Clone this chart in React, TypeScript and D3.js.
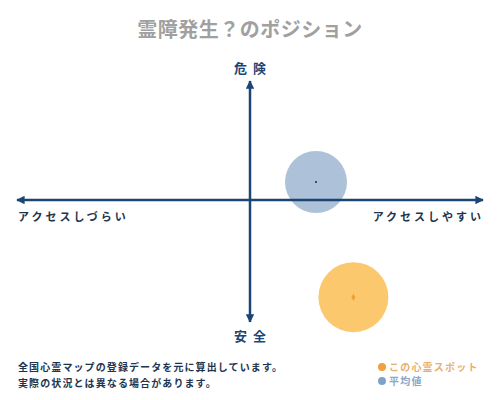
import React from "react";
import * as d3 from "d3";

const title = "霊障発生？のポジション";
const axisTop = "危険";
const axisBottom = "安全";
const axisLeft = "アクセスしづらい";
const axisRight = "アクセスしやすい";
const noteLines = ["全国心霊マップの登録データを元に算出しています。", "実際の状況とは異なる場合があります。"];
const seriesNames = ["この心霊スポット", "平均値"];
const seriesX = [47, 30];
const seriesY = [-81, 15];
const seriesR = [35, 31];
const seriesFill = ["#fcc86e", "#adc1d9"];
const seriesDot = ["#f0a030", "#1a2a3a"];
const legendColor = ["#f0a040", "#7fa3c8"];
const legendText = ["#e8b070", "#8aa8c8"];

const W = 500;
const H = 400;
const navy = "#1b4674";
const font = "'Noto Sans CJK JP', sans-serif";

export default function App() {
  const x = d3.scaleLinear().domain([-100, 100]).range([30, 470]);
  const y = d3.scaleLinear().domain([-100, 100]).range([320, 80]);
  const cx = x(0);
  const cy = y(0);
  return (
    <div style={{ position: "fixed", left: 0, top: 0, width: W, height: H, background: "#fff" }}>
      <svg width={W} height={H} style={{ display: "block" }}>
        <defs>
          <marker id="arr" viewBox="0 0 10 10" refX="9" refY="5" markerWidth="3.4" markerHeight="3.4" orient="auto">
            <path d="M0,0 L10,5 L0,10 z" fill={navy} />
          </marker>
        </defs>
        <text x={W / 2} y={37} textAnchor="middle" fontFamily={font} fontSize={20} fontWeight={700} fill="#a0a0a0" letterSpacing={0.5}>
          {title}
        </text>
        {seriesNames.map((n, i) => (
          <circle key={n} cx={x(seriesX[i])} cy={y(seriesY[i])} r={seriesR[i]} fill={seriesFill[i]} />
        ))}
        <line x1={cx} y1={cy} x2={17} y2={cy} stroke={navy} strokeWidth={2.5} markerEnd="url(#arr)" />
        <line x1={cx} y1={cy} x2={483} y2={cy} stroke={navy} strokeWidth={2.5} markerEnd="url(#arr)" />
        <line x1={cx} y1={cy} x2={cx} y2={81} stroke={navy} strokeWidth={2.5} markerEnd="url(#arr)" />
        <line x1={cx} y1={cy} x2={cx} y2={322} stroke={navy} strokeWidth={2.5} markerEnd="url(#arr)" />
        {seriesNames.map((n, i) =>
          i === 0 ? (
            <path key={n + "d"} d={d3.symbol(d3.symbolDiamond, 14)() as string} transform={`translate(${x(seriesX[i])},${y(seriesY[i])})`} fill={seriesDot[i]} />
          ) : (
            <circle key={n + "d"} cx={x(seriesX[i])} cy={y(seriesY[i])} r={1} fill={seriesDot[i]} />
          )
        )}
        <text x={cx + 3} y={73} textAnchor="middle" fontFamily={font} fontSize={13} fontWeight={700} fill={navy} letterSpacing={6}>
          {axisTop}
        </text>
        <text x={cx + 3} y={341} textAnchor="middle" fontFamily={font} fontSize={13} fontWeight={700} fill={navy} letterSpacing={6}>
          {axisBottom}
        </text>
        <text x={18} y={221} fontFamily={font} fontSize={11} fontWeight={700} fill="#1e3550" letterSpacing={3}>
          {axisLeft}
        </text>
        <text x={484} y={221} textAnchor="end" fontFamily={font} fontSize={11} fontWeight={700} fill="#1e3550" letterSpacing={3}>
          {axisRight}
        </text>
        {noteLines.map((t, i) => (
          <text key={t} x={18} y={371 + i * 16} fontFamily={font} fontSize={10} fontWeight={700} fill="#1e3550" letterSpacing={1.1}>
            {t}
          </text>
        ))}
        {seriesNames.map((n, i) => (
          <g key={n + "l"}>
            <circle cx={382} cy={367 + i * 14} r={4} fill={legendColor[i]} />
            <text x={389} y={371 + i * 14} fontFamily={font} fontSize={10} fontWeight={700} fill={legendText[i]} letterSpacing={1.2}>
              {n}
            </text>
          </g>
        ))}
      </svg>
    </div>
  );
}
